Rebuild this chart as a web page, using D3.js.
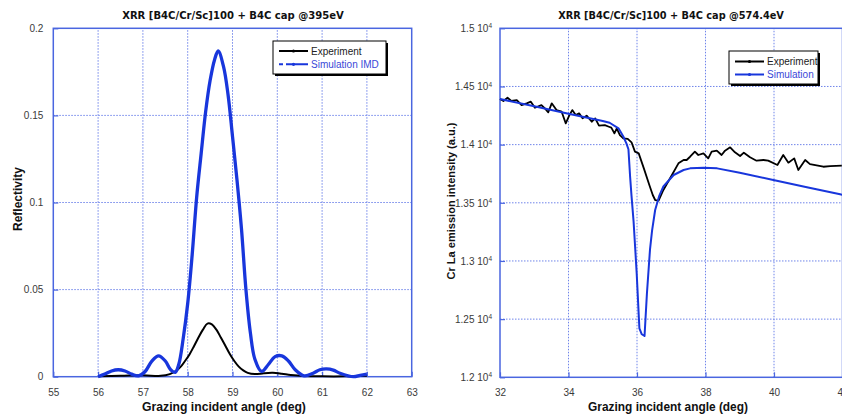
<!DOCTYPE html>
<html>
<head>
<meta charset="utf-8">
<script src="https://cdn.jsdelivr.net/npm/d3@7"></script>
<style>
  body { margin: 0; background: #fff; }
  text { font-family: "Liberation Sans", Arial, sans-serif; }
</style>
</head>
<body>
<svg id="fig" width="842" height="415"></svg>
<script>
// ---- left panel: reflectivity @395eV ----
const angle395Exp = [56.0, 56.5, 57.0, 57.4, 57.6, 57.74, 57.84, 57.94, 58.04, 58.14, 58.24, 58.34, 58.44, 58.54, 58.64, 58.74, 58.84, 58.94, 59.04, 59.14, 59.24, 59.34, 59.5, 59.7, 59.9, 60.1, 60.3, 60.6, 61.0, 61.5, 62.0];
const refl395Exp = [0.0003, 0.0005, 0.0008, 0.0005, 0.0015, 0.0033, 0.0056, 0.009, 0.0128, 0.0175, 0.0225, 0.027, 0.0305, 0.03, 0.027, 0.0225, 0.0178, 0.013, 0.009, 0.0058, 0.0036, 0.0022, 0.0015, 0.002, 0.0022, 0.0017, 0.001, 0.0004, 0.0002, 0.0002, 0.0005];

const angle395Sim = [56.0, 56.15, 56.3, 56.45, 56.6, 56.75, 56.9, 57.05, 57.2, 57.35, 57.5, 57.62, 57.72, 57.8, 57.9, 58.0, 58.1, 58.2, 58.3, 58.4, 58.5, 58.6, 58.68, 58.8, 58.9, 59.0, 59.1, 59.2, 59.3, 59.4, 59.5, 59.65, 59.8, 59.95, 60.1, 60.25, 60.4, 60.6, 60.8, 60.95, 61.1, 61.25, 61.4, 61.7, 61.85, 62.0];
const refl395Sim = [0.0, 0.0015, 0.0033, 0.004, 0.0033, 0.0015, 0.0005, 0.003, 0.009, 0.012, 0.009, 0.004, 0.0025, 0.007, 0.022, 0.042, 0.07, 0.103, 0.128, 0.152, 0.17, 0.182, 0.187, 0.178, 0.162, 0.138, 0.113, 0.085, 0.05, 0.025, 0.01, 0.003, 0.007, 0.0115, 0.012, 0.009, 0.004, 0.0005, 0.002, 0.004, 0.0045, 0.0038, 0.002, 0.0, 0.0008, 0.0015];

// ---- right panel: Cr La emission @574.4eV ----
const angle574Exp = [32.0, 32.1, 32.22, 32.33, 32.49, 32.63, 32.78, 32.9, 33.02, 33.21, 33.31, 33.41, 33.51, 33.65, 33.8, 33.92, 34.02, 34.11, 34.21, 34.31, 34.41, 34.53, 34.68, 34.78, 34.89, 35.06, 35.18, 35.25, 35.34, 35.41, 35.5, 35.6, 35.73, 35.84, 35.94, 36.05, 36.2, 36.36, 36.46, 36.53, 36.63, 36.77, 37.02, 37.21, 37.36, 37.45, 37.55, 37.69, 37.79, 37.94, 38.08, 38.18, 38.33, 38.47, 38.57, 38.72, 38.86, 39.01, 39.12, 39.3, 39.49, 39.69, 39.83, 40.1, 40.27, 40.42, 40.59, 40.71, 40.91, 41.05, 41.44, 41.64, 41.98];
const crLa574Exp = [14392, 14375, 14403, 14375, 14383, 14340, 14355, 14369, 14317, 14340, 14311, 14278, 14355, 14297, 14283, 14183, 14249, 14297, 14254, 14269, 14226, 14249, 14197, 14226, 14163, 14168, 14154, 14146, 14097, 14140, 14082, 14054, 14049, 14020, 13940, 13925, 13796, 13653, 13567, 13524, 13518, 13610, 13739, 13839, 13868, 13868, 13896, 13940, 13911, 13925, 13882, 13940, 13948, 13911, 13948, 13977, 13934, 13902, 13931, 13891, 13862, 13868, 13862, 13825, 13911, 13845, 13882, 13782, 13868, 13833, 13810, 13816, 13819];

const angle574Sim = [32.0, 33.0, 34.0, 35.0, 35.2, 35.46, 35.6, 35.69, 35.75, 35.8, 35.84, 35.9, 35.99, 36.07, 36.14, 36.22, 36.29, 36.38, 36.44, 36.53, 36.65, 36.77, 37.07, 37.36, 37.55, 37.95, 38.34, 39.0, 39.98, 40.96, 41.93, 42.0];
const crLa574Sim = [14392, 14330, 14265, 14203, 14188, 14140, 14070, 14011, 13960, 13720, 13560, 13340, 12900, 12420, 12370, 12355, 12721, 13100, 13260, 13438, 13560, 13640, 13739, 13782, 13796, 13802, 13796, 13758, 13696, 13633, 13573, 13568];

const ticksX395 = [55, 56, 57, 58, 59, 60, 61, 62, 63];
const ticksY395 = [0, 0.05, 0.1, 0.15, 0.2];
const ticksX574 = [32, 34, 36, 38, 40, 42];
const ticksY574 = [12000, 12500, 13000, 13500, 14000, 14500, 15000];

const frameCol = "#4a66e0";
const gridCol = "#6f84ea";
const simCol = "#1836dc";

const svg = d3.select("#fig");

// shrink/grow a label's font until it spans the width seen in the picture
var fitText = function (sel, target) {
    const node = sel.node();
    const fs = parseFloat(sel.style("font-size"));
    const w = node.getComputedTextLength();
    sel.style("font-size", (fs * target / w).toFixed(2) + "px");
};

var drawPanel = function (p) {
    const g = svg.append("g");
    const x = d3.scaleLinear().domain(p.xDomain).range(p.xRange);
    const y = d3.scaleLinear().domain(p.yDomain).range(p.yRange);

    // grid
    g.selectAll(".gx").data(p.xTicks.slice(1, -1)).join("line")
        .attr("x1", d => x(d)).attr("x2", d => x(d))
        .attr("y1", p.yRange[0]).attr("y2", p.yRange[1])
        .attr("stroke", gridCol).attr("stroke-width", 1).attr("stroke-dasharray", "1.5,1.5");
    g.selectAll(".gy").data(p.yTicks.slice(1, -1)).join("line")
        .attr("y1", d => y(d)).attr("y2", d => y(d))
        .attr("x1", p.xRange[0]).attr("x2", p.xRange[1])
        .attr("stroke", gridCol).attr("stroke-width", 1).attr("stroke-dasharray", "1.5,1.5");

    // axes (inward ticks)
    const ax = g.append("g").attr("transform", `translate(0,${p.yRange[0]})`)
        .call(d3.axisBottom(x).tickValues(p.xTicks).tickSize(-5).tickPadding(12).tickFormat(d3.format("d")));
    const ay = g.append("g").attr("transform", `translate(${p.xRange[0]},0)`)
        .call(d3.axisLeft(y).tickValues(p.yTicks).tickSize(-5).tickPadding(p.yPad).tickFormat(d3.format("")));
    [ax, ay].forEach(a => {
        a.select(".domain").remove();
        a.selectAll(".tick line").attr("stroke", frameCol).attr("stroke-width", 1.2);
        a.selectAll(".tick text").attr("fill", "#3a3a3a").style("font-size", "10px");
    });
    if (p.superscript) {
        ay.selectAll(".tick text").text(d => d3.format("")(d / 10000) + " 10")
            .append("tspan").attr("dy", "-0.55em").style("font-size", "6.5px").text("4");
    }

    // frame
    g.append("rect")
        .attr("x", p.xRange[0]).attr("y", p.yRange[1])
        .attr("width", p.xRange[1] - p.xRange[0]).attr("height", p.yRange[0] - p.yRange[1])
        .attr("fill", "none").attr("stroke", frameCol).attr("stroke-width", 1.5);

    // curves
    const line = d3.line().x(d => x(d[0])).y(d => y(d[1])).curve(p.curve);
    p.series.forEach(s => {
        g.append("path").datum(d3.zip(s.xs, s.ys))
            .attr("d", line).attr("fill", "none")
            .attr("stroke", s.color).attr("stroke-width", s.width)
            .attr("stroke-linejoin", "round");
    });

    // titles
    const t = g.append("text").attr("x", p.titleX).attr("y", 18.5).attr("text-anchor", "middle")
        .style("font-family", "'DejaVu Sans', Verdana, sans-serif")
        .style("font-size", "10px").style("font-weight", "bold").attr("fill", "#111").text(p.title);
    fitText(t, p.titleW);
    const xl = g.append("text").attr("x", p.xLabelX).attr("y", 410.5).attr("text-anchor", "middle")
        .style("font-size", "12px").style("font-weight", "bold").attr("fill", "#111").text("Grazing incident angle (deg)");
    fitText(xl, p.xLabelW);
    const yl = g.append("text").attr("transform", `translate(${p.yLabelX},${p.yLabelY}) rotate(-90)`)
        .attr("text-anchor", "middle")
        .style("font-size", "12px").style("font-weight", "bold").attr("fill", "#111").text(p.yLabel);
    fitText(yl, p.yLabelW);

    // legend
    const L = p.legend;
    g.append("rect").attr("x", L.x + 2).attr("y", L.y + 2).attr("width", L.w).attr("height", L.h).attr("fill", "#000");
    g.append("rect").attr("x", L.x).attr("y", L.y).attr("width", L.w).attr("height", L.h)
        .attr("fill", "#fff").attr("stroke", "#000").attr("stroke-width", 1);
    p.series.forEach((s, i) => {
        const ly = L.y + L.row0 + i * L.dy;
        g.append("line").attr("x1", L.x + 6).attr("x2", L.x + 35).attr("y1", ly).attr("y2", ly)
            .attr("stroke", s.color).attr("stroke-width", 2)
            .attr("stroke-dasharray", s.legendDash || null);
        g.append("circle").attr("cx", L.x + 20.5).attr("cy", ly).attr("r", 1.6).attr("fill", s.color);
        g.append("text").attr("x", L.x + 38).attr("y", ly + 3.5)
            .style("font-size", "10px").attr("fill", s.textColor).text(s.name);
    });
};

drawPanel({
    xDomain: [55, 63], xRange: [53.3, 411.7],
    yDomain: [0, 0.2], yRange: [376.7, 28.3],
    xTicks: ticksX395, yTicks: ticksY395,
    yPad: 10,
    curve: d3.curveCatmullRom,
    title: "XRR [B4C/Cr/Sc]100 + B4C cap @395eV", titleX: 233, titleW: 222,
    xLabelX: 224, xLabelW: 164,
    yLabel: "Reflectivity", yLabelX: 22, yLabelY: 199, yLabelW: 64,
    legend: { x: 273, y: 41, w: 113, h: 33, row0: 10, dy: 13.3 },
    series: [
        { name: "Experiment", xs: angle395Exp, ys: refl395Exp, color: "#000", width: 2, textColor: "#222" },
        { name: "Simulation IMD", xs: angle395Sim, ys: refl395Sim, color: simCol, width: 3.3, textColor: "#3a48d8", legendDash: "4,3,22" }
    ]
});

drawPanel({
    xDomain: [32, 42], xRange: [500, 842.5],
    yDomain: [12000, 15000], yRange: [377.3, 28.3],
    xTicks: ticksX574, yTicks: ticksY574,
    yPad: 8, superscript: true,
    curve: d3.curveLinear,
    title: "XRR [B4C/Cr/Sc]100 + B4C cap @574.4eV", titleX: 671, titleW: 226,
    xLabelX: 668, xLabelW: 160,
    yLabel: "Cr La emission intensity (a.u.)", yLabelX: 455, yLabelY: 201, yLabelW: 157,
    legend: { x: 729, y: 51, w: 89, h: 33, row0: 10.5, dy: 13 },
    series: [
        { name: "Experiment", xs: angle574Exp, ys: crLa574Exp, color: "#000", width: 1.8, textColor: "#222" },
        { name: "Simulation", xs: angle574Sim, ys: crLa574Sim, color: simCol, width: 2, textColor: "#3a48d8" }
    ]
});
</script>
</body>
</html>
